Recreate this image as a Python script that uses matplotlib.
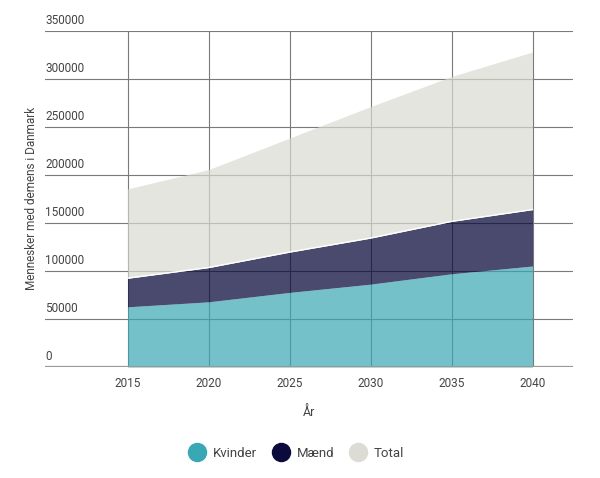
import numpy as np
import matplotlib.pyplot as plt
import matplotlib.transforms as mtransforms
from matplotlib.lines import Line2D

plt.rcParams['font.family'] = ['Roboto', 'DejaVu Sans']

years = [2015, 2020, 2025, 2030, 2035, 2040]
kvinder = [62800, 68000, 77800, 86400, 97200, 105300]
maend = [29800, 35700, 42000, 48000, 54600, 58800]
total = [93000, 102000, 118700, 136900, 150900, 164100]
y_ticks = [0, 50000, 100000, 150000, 200000, 250000, 300000, 350000]

c_kvinder = '#3aa7b4'
c_maend = '#0b0a3c'
c_total = '#d9dbd0'
text_col = '#444444'

k = np.array(kvinder)
m = k + np.array(maend)
t = m + np.array(total)

fig = plt.figure(figsize=(6, 4.78), dpi=100)
ax = fig.add_axes([0.075, 0.232, 0.88, 0.703])

ax.fill_between(years, 0, k, color=c_kvinder, alpha=0.7, lw=0, zorder=3)
ax.fill_between(years, k, m, color=c_maend, alpha=0.74, lw=0, zorder=3)
ax.fill_between(years, m, t, color=c_total, alpha=0.7, lw=0, zorder=3)
ax.plot(years, m, color='white', lw=1, zorder=4)

ax.set_xlim(2009.9, 2042.5)
ax.set_ylim(0, 350000)
ax.set_xticks(years)
ax.set_yticks(y_ticks)
ax.set_yticklabels([])
ax.tick_params(length=0, colors=text_col, labelsize=8.5)
ax.tick_params(axis='x', pad=7)
ax.grid(True, color='#7a7a7a', lw=0.8, zorder=1)
ax.set_axisbelow(True)
for s in ax.spines.values():
    s.set_visible(False)
ax.axhline(0, color='#999999', lw=1.6, zorder=5)

trans = mtransforms.blended_transform_factory(ax.transAxes, ax.transData)
for v in y_ticks:
    ax.text(0.0, v + 4000, str(v), transform=trans, ha='left', va='bottom',
            fontsize=8.5, color=text_col)

ax.set_xlabel('År', fontsize=9, color=text_col, labelpad=12)
fig.text(0.052, 0.584, 'Mennesker med demens i Danmark', rotation=90,
         ha='center', va='center', fontsize=8.5, color=text_col)

handles = [Line2D([], [], marker='o', ls='', ms=13, color=c, mec=c)
           for c in [c_kvinder, c_maend, '#dcdcd4']]
fig.legend(handles, ['Kvinder', 'Mænd', 'Total'], loc='center',
           bbox_to_anchor=(0.49, 0.052), ncol=3, frameon=False,
           fontsize=9.5, handletextpad=0.2, columnspacing=0.8,
           labelcolor=text_col)

fig.savefig('out.png', dpi=100)
